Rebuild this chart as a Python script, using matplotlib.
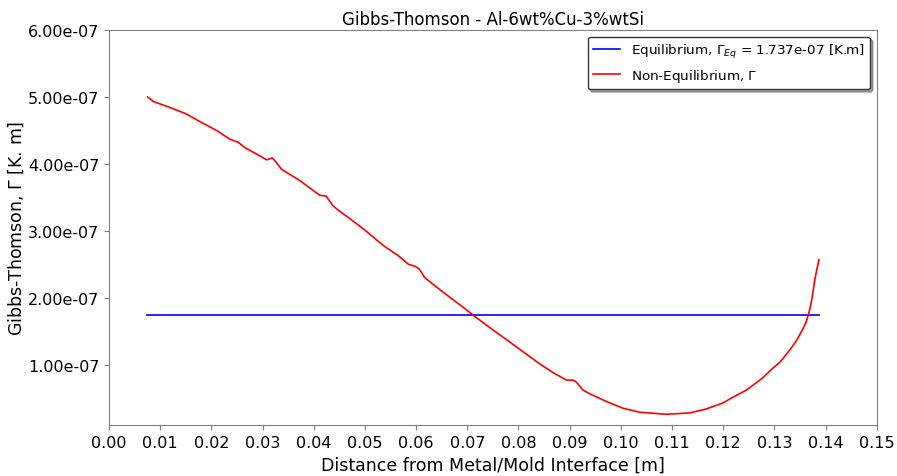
import matplotlib
matplotlib.use('Agg')
import matplotlib.pyplot as plt
from matplotlib.ticker import FormatStrFormatter

# Distance from interface [m] and Gibbs-Thomson coefficient [K.m]
distance = [0.00755, 0.0087, 0.0113, 0.0150, 0.0178, 0.0210, 0.0236, 0.0253, 0.0266,
            0.0290, 0.0308, 0.0319, 0.0324, 0.0337, 0.0373, 0.0412, 0.0424, 0.0438,
            0.0451, 0.0471, 0.0500, 0.0536, 0.0565, 0.0585, 0.0598, 0.0606, 0.0617,
            0.0650, 0.0700, 0.0712, 0.0750, 0.0800, 0.0842, 0.0870, 0.0894, 0.0907,
            0.0913, 0.0926, 0.0939, 0.0972, 0.1004, 0.1037, 0.1089, 0.1135, 0.1167,
            0.1200, 0.1213, 0.1245, 0.1275, 0.1297, 0.1311, 0.1330, 0.1343, 0.1356,
            0.1362, 0.1366, 0.1370, 0.1374, 0.1379, 0.1383, 0.1387]
gamma = [5.00e-7, 4.93e-7, 4.86e-7, 4.75e-7, 4.63e-7, 4.50e-7, 4.37e-7, 4.32e-7, 4.24e-7,
         4.14e-7, 4.06e-7, 4.09e-7, 4.05e-7, 3.92e-7, 3.75e-7, 3.53e-7, 3.52e-7, 3.37e-7,
         3.29e-7, 3.18e-7, 3.01e-7, 2.78e-7, 2.63e-7, 2.50e-7, 2.47e-7, 2.43e-7, 2.30e-7,
         2.10e-7, 1.81e-7, 1.736e-7, 1.52e-7, 1.245e-7, 1.01e-7, 0.87e-7, 0.77e-7, 0.77e-7,
         0.74e-7, 0.62e-7, 0.567e-7, 0.45e-7, 0.35e-7, 0.29e-7, 0.26e-7, 0.28e-7, 0.34e-7,
         0.43e-7, 0.49e-7, 0.62e-7, 0.79e-7, 0.95e-7, 1.04e-7, 1.22e-7, 1.36e-7, 1.54e-7,
         1.64e-7, 1.74e-7, 1.86e-7, 2.02e-7, 2.28e-7, 2.43e-7, 2.57e-7]

gamma_eq = 1.737e-07
eq_range = [0.0074, 0.1387]

fig = plt.figure(figsize=(8.97, 4.77), dpi=100)
ax = fig.add_axes([0.1215, 0.107, 0.856, 0.828])

ax.plot(eq_range, [gamma_eq, gamma_eq], color='blue', lw=1.2,
        label=r'Equilibrium, $\Gamma_{Eq}$ = %.3e [K.m]' % gamma_eq)
ax.plot(distance, gamma, color='red', lw=1.2, label=r'Non-Equilibrium, $\Gamma$')

ax.set_xlim(0, 0.15)
ax.set_ylim(1e-8, 6e-7)
ax.set_xticks([i * 0.01 for i in range(16)])
ax.xaxis.set_major_formatter(FormatStrFormatter('%.2f'))
ax.yaxis.set_major_formatter(FormatStrFormatter('%.2e'))
ax.tick_params(labelsize=11.5, color='gray')
for s in ax.spines.values():
    s.set_color('gray')

ax.set_title('Gibbs-Thomson - Al-6wt%Cu-3%wtSi', fontsize=12, pad=4)
ax.set_xlabel('Distance from Metal/Mold Interface [m]', fontsize=12.5)
ax.set_ylabel(r'Gibbs-Thomson, $\Gamma$ [K. m]', fontsize=12.5, labelpad=1)

leg = ax.legend(loc='upper right', shadow=True, fontsize=9.7, edgecolor='#333333')

plt.savefig('out.png', dpi=100)
plt.close()
